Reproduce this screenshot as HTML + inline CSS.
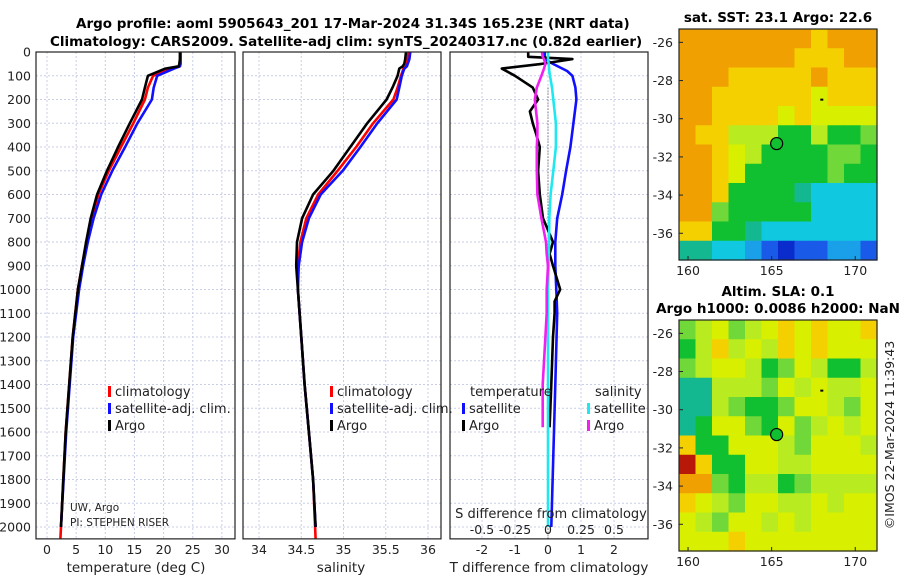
<!DOCTYPE html>
<html><head><meta charset="utf-8"><style>
body{margin:0;background:#fff;}
svg text{font-family:"DejaVu Sans","Liberation Sans",sans-serif;fill:#222;}
.t{font-weight:bold;font-size:13.5px;fill:#000;}
.tk{font-size:12.5px;}
</style></head><body>
<svg id="fig" width="900" height="580" viewBox="0 0 900 580" xmlns="http://www.w3.org/2000/svg">
<rect width="900" height="580" fill="#fff"/>
<text class="t" x="76" y="28">Argo profile: aoml 5905643_201 17-Mar-2024 31.34S 165.23E (NRT data)</text>
<text class="t" x="50" y="46">Climatology: CARS2009. Satellite-adj clim: synTS_20240317.nc (0.82d earlier)</text>
<g id="plots"></g>
<text class="t" x="778" y="22" text-anchor="middle">sat. SST: 23.1 Argo: 22.6</text>
<text class="t" x="778" y="296" text-anchor="middle">Altim. SLA: 0.1</text>
<text class="t" x="778" y="313" text-anchor="middle">Argo h1000: 0.0086 h2000: NaN</text>
<text x="894" y="435" font-size="12.5" text-anchor="middle" transform="rotate(-90 894 435)">©IMOS 22-Mar-2024 11:39:43</text>
</svg>
<script>
// ---- profile data ----
const depths=[0,30,50,60,70,100,150,200,300,400,500,600,700,800,900,1000,1200,1400,1600,1800,2000];
const tempArgo=[22.8,22.8,22.7,22.6,20.3,17.3,16.8,16.3,14.2,12.2,10.3,8.6,7.5,6.7,6.0,5.3,4.4,3.8,3.2,2.8,2.4];
const tempClim=[22.9,22.9,22.9,22.8,21.5,18.2,17.3,16.8,14.8,12.7,10.6,8.8,7.7,6.8,6.0,5.3,4.4,3.8,3.2,2.8,2.3];
const tempSat=[22.9,22.9,22.9,22.8,21.8,18.9,18.3,18.0,15.5,13.4,11.2,9.3,8.0,7.0,6.2,5.5,4.5,3.9,3.3,2.85,2.4];
const salArgo=[35.74,35.73,35.72,35.70,35.66,35.64,35.58,35.51,35.28,35.08,34.88,34.64,34.51,34.45,34.44,34.46,34.50,34.54,34.59,34.64,34.67];
const salClim=[35.77,35.76,35.75,35.74,35.71,35.68,35.64,35.59,35.35,35.15,34.93,34.70,34.56,34.49,34.46,34.46,34.50,34.54,34.59,34.64,34.67];
const salSat=[35.79,35.78,35.76,35.75,35.72,35.69,35.66,35.63,35.40,35.20,34.99,34.73,34.59,34.51,34.47,34.46,34.50,34.54,34.59,34.64,34.67];
const diffDepths=[0,20,30,50,70,100,150,200,250,300,350,400,500,600,700,800,850,900,1000,1050,1100,1200,1400,1580];
const tDiffArgo=[-0.6,-0.6,0.74,-0.2,-1.4,-1.0,-0.46,-0.3,-0.55,-0.46,-0.35,-0.25,-0.3,-0.25,-0.15,0.15,0.05,0.15,0.37,0.2,0.2,0.15,0.1,0.05];
const sDiffArgo=[-0.046,-0.04,-0.03,-0.02,-0.03,-0.05,-0.085,-0.1,-0.09,-0.08,-0.08,-0.085,-0.085,-0.08,-0.05,-0.015,-0.01,0,-0.01,-0.01,-0.01,-0.02,-0.04,-0.04];
const satDepths=[0,30,50,80,100,150,200,300,400,500,600,700,800,900,1000,1100,1400,2000];
const tDiffSat=[-0.1,-0.1,0.15,0.58,0.74,0.83,0.86,0.77,0.68,0.55,0.43,0.28,0.22,0.22,0.25,0.28,0.22,0.1];
const sDiffSat=[0,0,0.005,0.01,0.015,0.03,0.04,0.06,0.06,0.04,0.02,0.01,0.008,0.004,0,0,0,0];
const depthTicks=[0,100,200,300,400,500,600,700,800,900,1000,1100,1200,1300,1400,1500,1600,1700,1800,1900,2000];
const tempTicks=[0,5,10,15,20,25,30];
const salTicks=[34,34.5,35,35.5,36];
const salTickLabels=["34","34.5","35","35.5","36"];
const tdTicks=[-2,-1,0,1,2];
const sdTicks=[-0.5,-0.25,0,0.25,0.5];
const sdTickLabels=["-0.5","-0.25","0","0.25","0.5"];
// ---- map data (colour level indices, rows north->south) ----
const sstGrid=[
[10,10,10,10,10,10,10,10,9,10,10,10],
[10,10,10,10,10,10,10,9,9,9,10,10],
[10,10,10,9,9,9,9,9,10,9,9,9],
[10,10,9,9,9,9,9,9,8,9,9,9],
[10,10,9,9,9,9,8,9,8,8,8,8],
[10,9,9,7,7,7,5,5,7,5,5,6],
[10,10,9,8,7,5,5,5,5,6,6,5],
[10,10,9,8,5,5,5,5,5,6,5,5],
[10,10,9,5,5,5,5,4,3,3,3,3],
[10,10,6,5,5,5,5,5,3,3,3,3],
[9,9,5,5,4,3,3,3,3,3,3,3],
[4,4,3,3,2,1,0,1,1,2,2,1]];
const slaGrid=[
[6,7,8,6,7,8,9,8,9,8,8,9],
[5,7,9,7,8,7,9,8,9,8,8,8],
[6,7,8,8,7,5,6,8,7,5,5,7],
[4,4,7,7,7,6,8,7,8,7,7,8],
[4,4,7,6,5,5,6,8,8,7,6,8],
[4,5,8,8,6,5,8,6,7,8,7,8],
[9,5,5,8,8,8,7,6,8,8,8,7],
[11,9,5,5,8,8,7,7,8,8,8,8],
[10,10,6,5,7,7,5,6,7,7,7,7],
[9,8,7,6,8,8,7,7,8,7,8,8],
[8,7,6,8,8,7,8,7,8,8,8,8],
[8,8,8,9,8,8,8,8,8,8,8,8]];
const lonTicks=[160,165,170];
const latTicks=[-26,-28,-30,-32,-34,-36];
const floatLon=165.3, floatLat=-31.3;
const palette=["#0a2ccc","#1a5ae8","#1aa0e8","#10c8e0","#14b890","#10c030","#70d838","#b8ec20","#d8f000","#f4d000","#f0a000","#b81808"];

const NS="http://www.w3.org/2000/svg";
const g=document.getElementById('plots');
function mk(tag,attrs,parent){const e=document.createElementNS(NS,tag);for(const k in attrs)e.setAttribute(k,attrs[k]);(parent||g).appendChild(e);return e;}
const Y0=52,PXM=0.2375;
function yD(d){return Y0+d*PXM;}
const BOT=yD(2050);
function panel(name,x0,x1,xs,ticks,labels){
  const p=mk('g',{});
  
  
  depthTicks.forEach(d=>{const l=mk('line',{x1:x0,x2:x1,y1:yD(d),y2:yD(d),stroke:'#c9cde8','stroke-dasharray':'2,2'},p);
    });
  ticks.forEach((v,i)=>{const x=xs(v);const l=mk('line',{x1:x,x2:x,y1:Y0,y2:BOT,stroke:'#c9cde8','stroke-dasharray':'2,2'},p);
    
    const t=mk('text',{x:x,y:BOT+15,'text-anchor':'middle',class:'tk'},p);t.textContent=labels[i];
    });
  return p;
}
function frame(x0,x1,p){const r=mk('rect',{x:x0,y:Y0,width:x1-x0,height:BOT-Y0,fill:'none',stroke:'#222','stroke-width':1.2},p);
  }
function line(xsArr,ds,xs,color,w,p,name){const pts=xsArr.map((v,i)=>xs(v).toFixed(1)+','+yD(ds[i]).toFixed(1)).join(' ');
  const l=mk('polyline',{points:pts,fill:'none',stroke:color,'stroke-width':w,'stroke-linejoin':'round'},p);
  }
function txt(s,x,y,attrs,p,name){const t=mk('text',Object.assign({x:x,y:y},attrs||{}),p);t.textContent=s;
  return t;}
function legItem(x,y,color,label,p){const r=mk('rect',{x:x,y:y-10,width:3,height:11,fill:color},p);
  
  txt(label,x+7,y,{'font-size':'13'},p,'legend-label');}

// Panel 1 temperature
const xT=v=>47+v*5.83;
let p1=panel('temperature-panel',36,235,xT,tempTicks,tempTicks.map(String));
depthTicks.forEach(d=>txt(String(d),31,yD(d)+4.5,{'text-anchor':'end',class:'tk'},p1,'y-tick-label'));
line(tempClim,depths.map(d=>d===2000?2050:d),xT,'#f00',2.6,p1,'temp-climatology-line');
line(tempSat,depths,xT,'#1010ff',2.6,p1,'temp-satellite-line');
line(tempArgo,depths,xT,'#000',2.6,p1,'temp-argo-line');
frame(36,235,p1);
legItem(108,396,'#f00','climatology',p1);legItem(108,413,'#1010ff','satellite-adj. clim.',p1);legItem(108,430,'#000','Argo',p1);
txt('UW, Argo',70,511,{'font-size':'10.5'},p1,'source-label');
txt('PI: STEPHEN RISER',70,526,{'font-size':'10.5'},p1,'pi-label');
txt('temperature (deg C)',136,572,{'text-anchor':'middle','font-size':'13.5'},p1,'x-axis-title');

// Panel 2 salinity
const xS=v=>259+(v-34)*84.5;
let p2=panel('salinity-panel',243,441,xS,salTicks,salTickLabels);
line(salClim,depths.map(d=>d===2000?2050:d),xS,'#f00',2.6,p2,'sal-climatology-line');
line(salSat,depths,xS,'#1010ff',2.6,p2,'sal-satellite-line');
line(salArgo,depths,xS,'#000',2.6,p2,'sal-argo-line');
frame(243,441,p2);
legItem(330,396,'#f00','climatology',p2);legItem(330,413,'#1010ff','satellite-adj. clim.',p2);legItem(330,430,'#000','Argo',p2);
txt('salinity',341,572,{'text-anchor':'middle','font-size':'13.5'},p2,'x-axis-title');

// Panel 3 differences
const xTD=v=>548+v*33;
const xSD=v=>548+v*132;
let p3=panel('difference-panel',450,648,xTD,tdTicks,tdTicks.map(String));
const z=mk('line',{x1:548,x2:548,y1:yD(150),y2:BOT,stroke:'#444','stroke-dasharray':'1,2'},p3);

line(tDiffSat,satDepths,xTD,'#1010ff',2.6,p3,'tdiff-satellite-line');
line(tDiffArgo,diffDepths,xTD,'#000',2.6,p3,'tdiff-argo-line');
line(sDiffSat,satDepths,xSD,'#20e8f0',2.6,p3,'sdiff-satellite-line');
line(sDiffArgo,diffDepths,xSD,'#f020f0',2.6,p3,'sdiff-argo-line');
frame(450,648,p3);
txt('temperature',470,396,{'font-size':'13'},p3,'legend-heading-temp');
txt('salinity',595,396,{'font-size':'13'},p3,'legend-heading-sal');
legItem(462,413,'#1010ff','satellite',p3);legItem(462,430,'#000','Argo',p3);
legItem(587,413,'#20e8f0','satellite',p3);legItem(587,430,'#f020f0','Argo',p3);
txt('S difference from climatology',551,518,{'text-anchor':'middle','font-size':'13'},p3,'s-axis-title');
sdTicks.forEach((v,i)=>txt(sdTickLabels[i],xSD(v),534,{'text-anchor':'middle',class:'tk'},p3,'s-tick-label'));
txt('T difference from climatology',549,572,{'text-anchor':'middle','font-size':'13.5'},p3,'x-axis-title');

// Maps
function map(name,grid,top){
  const L=679,R=877,H=231,lon0=159.46,lon1=171.3,lat0=-25.3,lat1=-37.4;
  const mx=v=>L+(v-lon0)/(lon1-lon0)*(R-L);
  const my=v=>top+(v-lat0)/(lat1-lat0)*H;
  const p=mk('g',{});
  const nr=grid.length,nc=grid[0].length,cw=(R-L)/nc,ch=H/nr;
  grid.forEach((row,r)=>row.forEach((v,c)=>{const e=mk('rect',{x:(L+c*cw).toFixed(2),y:(top+r*ch).toFixed(2),width:(cw+0.6).toFixed(2),height:(ch+0.6).toFixed(2),fill:palette[v]},p);
    }));
  const f=mk('rect',{x:L,y:top,width:R-L,height:H,fill:'none',stroke:'#222','stroke-width':1.2},p);
  
  latTicks.forEach(v=>{txt(String(v),673,my(v)+4.5,{'text-anchor':'end',class:'tk'},p,'lat-tick-label');
    const t=mk('line',{x1:L,x2:L+4,y1:my(v),y2:my(v),stroke:'#222'},p);});
  lonTicks.forEach(v=>{txt(String(v),mx(v),top+H+15,{'text-anchor':'middle',class:'tk'},p,'lon-tick-label');
    const t=mk('line',{x1:mx(v),x2:mx(v),y1:top+H,y2:top+H-4,stroke:'#222'},p);});
  const c=mk('circle',{cx:mx(floatLon),cy:my(floatLat),r:6,fill:'#10c030',stroke:'#000','stroke-width':1.2},p);
  
  const d=mk('rect',{x:mx(168)-1.5,y:my(-29)-1,width:3,height:2,fill:'#000'},p);
  
}
map('sst-map',sstGrid,29);
map('sla-map',slaGrid,320);
</script>
</body></html>
